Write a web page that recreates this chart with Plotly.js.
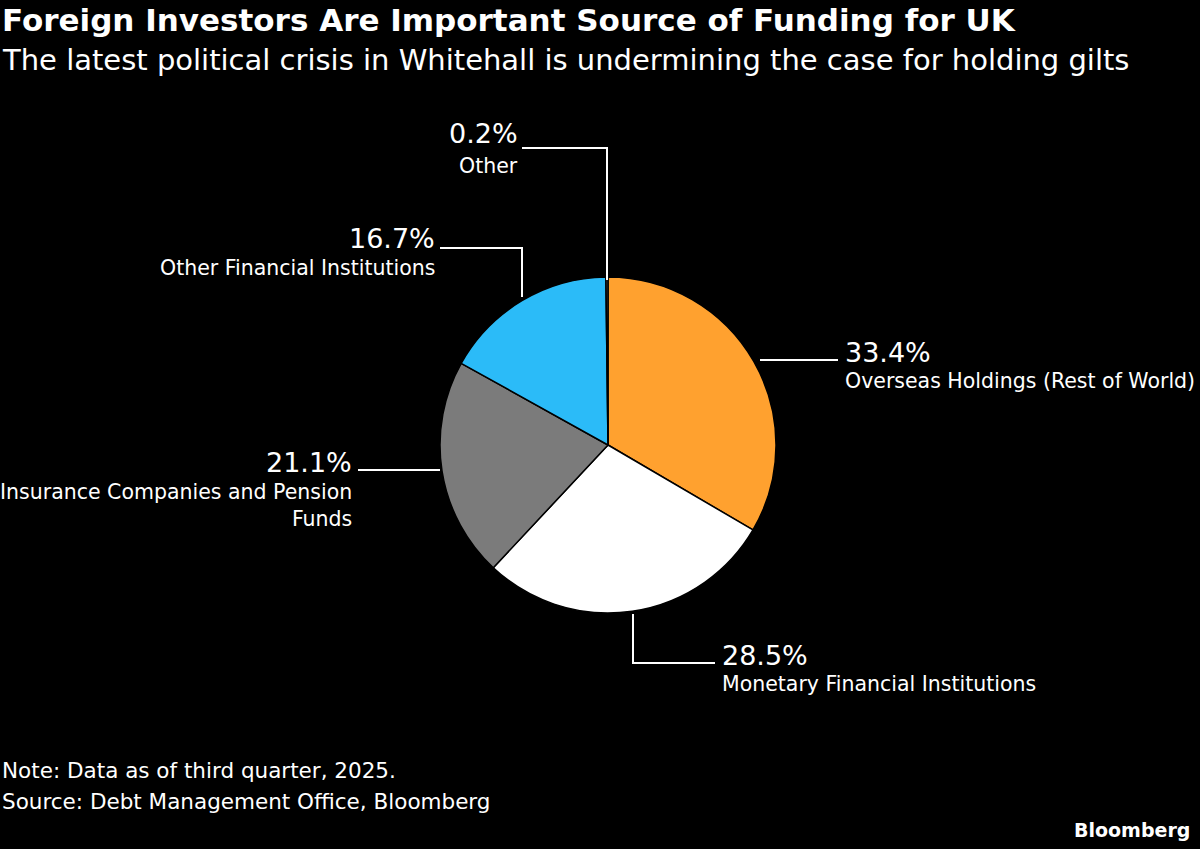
<!DOCTYPE html>
<html>
<head>
<meta charset="utf-8">
<script src="https://cdn.plot.ly/plotly-3.0.1.min.js"></script>
<style>body{margin:0;background:#000}</style>
</head>
<body>
<div id="chart" style="width:1200px;height:849px"></div>
<script>
// Gilt holdings by investor type, Q3 2025
const categories = ['Overseas Holdings (Rest of World)', 'Monetary Financial Institutions',
  'Insurance Companies and Pension<br>Funds', 'Other Financial Institutions', 'Other'];
const shares = [33.4, 28.5, 21.1, 16.7, 0.2];
const colors = ['#ffa12f', '#ffffff', '#7b7b7b', '#2bbbf8', '#555555'];

const W = 1200, H = 849;
// pixel -> paper helpers
const px = x => x / W;
const py = y => 1 - y / H;

// leader lines [points] and label placement per slice
const leaders = [
  {pts: [[760, 360], [838, 360]], x: 843, anchor: 'left', yPct: 352, yLab: 381},
  {pts: [[633, 614], [633, 663], [715, 663]], x: 720, anchor: 'left', yPct: 655, yLab: 684},
  {pts: [[440, 470], [358, 470]], x: 354, anchor: 'right', yPct: 462, yLab: 505},
  {pts: [[522, 297], [522, 248], [440, 248]], x: 437, anchor: 'right', yPct: 238, yLab: 268},
  {pts: [[607, 280], [607, 148], [522, 148]], x: 520, anchor: 'right', yPct: 133, yLab: 166}
];

const font = 'DejaVu Sans, sans-serif';
let shapes = [];
let annotations = [];
leaders.forEach((l, i) => {
  let path = l.pts.map((p, k) => (k ? 'L' : 'M') + px(p[0]) + ',' + py(p[1])).join(' ');
  shapes.push({type: 'path', xref: 'paper', yref: 'paper', path: path,
    line: {color: '#ffffff', width: 2}});
  annotations.push({xref: 'paper', yref: 'paper', x: px(l.x), y: py(l.yPct),
    xanchor: l.anchor, yanchor: 'middle', showarrow: false, align: l.anchor,
    text: shares[i].toFixed(1) + '%', font: {family: font, size: 27, color: '#fff'}});
  annotations.push({xref: 'paper', yref: 'paper', x: px(l.x), y: py(l.yLab),
    xanchor: l.anchor, yanchor: 'middle', showarrow: false, align: l.anchor,
    text: categories[i], font: {family: font, size: 20.5, color: '#fff'}});
});

// titles and footer
const texts = [
  {t: '<b>Foreign Investors Are Important Source of Funding for UK</b>', x: 0, y: 20, s: 31},
  {t: 'The latest political crisis in Whitehall is undermining the case for holding gilts', x: 0, y: 60, s: 29},
  {t: 'Note: Data as of third quarter, 2025.', x: 0, y: 770, s: 21.5},
  {t: 'Source: Debt Management Office, Bloomberg', x: 0, y: 801, s: 21.5}
];
texts.forEach(o => annotations.push({xref: 'paper', yref: 'paper', x: px(o.x), y: py(o.y),
  xanchor: 'left', yanchor: 'middle', showarrow: false, text: o.t,
  font: {family: font, size: o.s, color: '#fff'}}));
annotations.push({xref: 'paper', yref: 'paper', x: px(1192), y: py(830), xanchor: 'right',
  yanchor: 'middle', showarrow: false, text: '<b>Bloomberg</b>',
  font: {family: font, size: 19, color: '#fff'}});

const data = [{
  type: 'pie', values: shares, labels: categories, sort: false,
  direction: 'clockwise', rotation: 0, textinfo: 'none', hoverinfo: 'none',
  marker: {colors: colors, line: {color: '#000', width: 1.5}},
  domain: {x: [px(440), px(776)], y: [py(613), py(277)]}
}];

const layout = {
  width: W, height: H, margin: {l: 0, r: 0, t: 0, b: 0},
  paper_bgcolor: '#000', plot_bgcolor: '#000', showlegend: false,
  shapes: shapes, annotations: annotations
};

Plotly.newPlot('chart', data, layout, {displayModeBar: false});
</script>
</body>
</html>
